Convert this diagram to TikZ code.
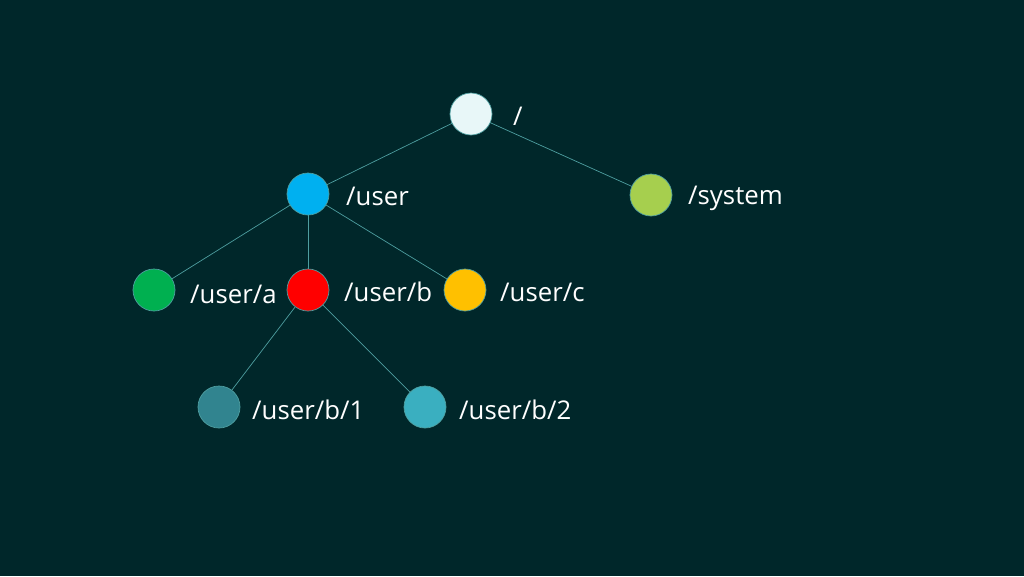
\documentclass[tikz,border=0pt]{standalone}
\usepackage{fontspec}
\setmainfont{Open Sans}
\definecolor{bgcol}{HTML}{00272A}
\definecolor{edgecol}{HTML}{4E9EA0}
\definecolor{rootcol}{HTML}{E8F7F8}
\definecolor{usercol}{HTML}{00B0F0}
\definecolor{syscol}{HTML}{A6CF4E}
\definecolor{acol}{HTML}{00B050}
\definecolor{bcol}{HTML}{FF0000}
\definecolor{ccol}{HTML}{FFC000}
\definecolor{bonecol}{HTML}{31848F}
\definecolor{btwocol}{HTML}{3AAFC0}
\tikzset{
  dir/.style={circle,draw=edgecol,line width=0.6pt,minimum size=1.26cm,inner sep=0pt,fill=#1},
  lbl/.style={text=white,font=\fontsize{22}{26}\selectfont,anchor=west,inner sep=0pt},
  link/.style={draw=edgecol,line width=0.6pt}
}
\begin{document}
\begin{tikzpicture}[x=0.03cm,y=-0.03cm]
    \fill[bgcol] (0,0) rectangle (1024,576);
    \useasboundingbox (0,0) rectangle (1024,576);

    \node[dir=rootcol] (root) at (471,114) {};
    \node[dir=usercol] (user) at (308,194) {};
    \node[dir=syscol] (system) at (651,195) {};
    \node[dir=acol] (usera) at (154,290) {};
    \node[dir=bcol] (userb) at (308,290) {};
    \node[dir=ccol] (userc) at (465,290) {};
    \node[dir=bonecol] (userbone) at (219,407) {};
    \node[dir=btwocol] (userbtwo) at (425,407) {};

    \draw[link] (root) -- (user);
    \draw[link] (root) -- (system);
    \draw[link] (user) -- (usera);
    \draw[link] (user) -- (userb);
    \draw[link] (user) -- (userc);
    \draw[link] (userb) -- (userbone);
    \draw[link] (userb) -- (userbtwo);

    \node[lbl] at (513,116) {/};
    \node[lbl] at (346,196) {/user};
    \node[lbl] at (688,198) {/system};
    \node[lbl] at (190,294) {/user/a};
    \node[lbl] at (344,292) {/user/b};
    \node[lbl] at (500,292) {/user/c};
    \node[lbl] at (252,410) {/user/b/1};
    \node[lbl] at (459,410) {/user/b/2};
\end{tikzpicture}
\end{document}
